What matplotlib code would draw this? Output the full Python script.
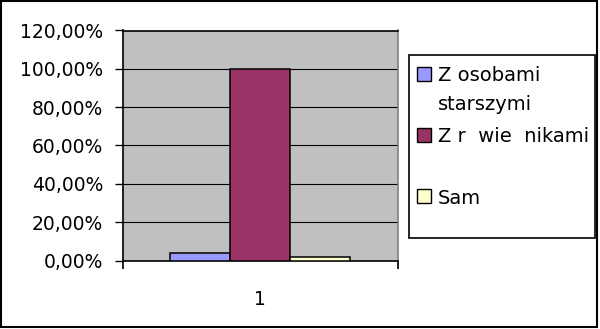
import matplotlib
matplotlib.use("Agg")
import matplotlib.pyplot as plt
from matplotlib.patches import Rectangle
from matplotlib.ticker import FuncFormatter, MultipleLocator

# data
series = ["Z osobami\nstarszymi", "Z r  wie  nikami", "Sam"]
values = [0.04, 1.00, 0.02]
colors = ["#9999FF", "#993366", "#FFFFCC"]
category = ["1"]

plt.rcParams["font.family"] = ["DejaVu Sans"]

W, H = 600, 329
fig = plt.figure(figsize=(W / 100, H / 100), dpi=100)

def px(x, y):
    # pixel position (from top left) -> figure fraction
    return x / W, 1 - y / H

ax = fig.add_axes([122.5 / W, (H - 260.5) / H, 275 / W, 230 / H])
ax.set_facecolor("#C0C0C0")

width = 0.218
offsets = [-width, 0, width]
for val, col, off in zip(values, colors, offsets):
    ax.bar(0 + off, val, width=width, color=col, edgecolor="black", linewidth=1.1, zorder=3)

ax.set_xlim(-0.5, 0.5)
ax.set_ylim(0, 1.2)
ax.yaxis.set_major_locator(MultipleLocator(0.2))
ax.yaxis.set_major_formatter(FuncFormatter(lambda v, p: f"{v * 100:.2f}%".replace(".", ",")))
ax.grid(axis="y", color="black", linewidth=0.8, zorder=1)
ax.set_axisbelow(True)

ax.set_xticks([0], category)
ax.set_xticks([-0.5, 0.5], minor=True)
ax.tick_params(axis="x", which="major", length=0, pad=21, labelsize=13.5)
ax.tick_params(axis="x", which="minor", length=6, width=1.2, direction="out")
ax.tick_params(axis="y", length=6, width=1.0, direction="out", pad=8, labelsize=13.5)

for s in ["left", "bottom", "top"]:
    ax.spines[s].set_color("black")
    ax.spines[s].set_linewidth(1.2)
ax.spines["right"].set_color("#808080")
ax.spines["right"].set_linewidth(1.2)

# legend box drawn by hand (Excel style)
x0, y0 = px(409, 238)
x1, y1 = px(595, 55)
fig.patches.append(Rectangle((x0, y0), x1 - x0, y1 - y0, transform=fig.transFigure,
                             facecolor="white", edgecolor="black", linewidth=1.2))
centers = [74, 135, 196]
sq = 14
for lab, col, cy in zip(series, colors, centers):
    sx, sy = px(417, cy + sq / 2)
    fig.patches.append(Rectangle((sx, sy), sq / W, sq / H, transform=fig.transFigure,
                                 facecolor=col, edgecolor="black", linewidth=1.0))
    for i, line in enumerate(lab.split("\n")):
        tx, ty = px(438, cy + 7.5 + 28 * i)
        fig.text(tx, ty, line, fontsize=14, va="baseline", ha="left")

# outer chart border
bx0, by0 = px(1, 327)
bx1, by1 = px(597, 1)
fig.patches.append(Rectangle((bx0, by0), bx1 - bx0, by1 - by0, transform=fig.transFigure,
                             facecolor="none", edgecolor="black", linewidth=1.5))

fig.savefig("out.png", dpi=100)
